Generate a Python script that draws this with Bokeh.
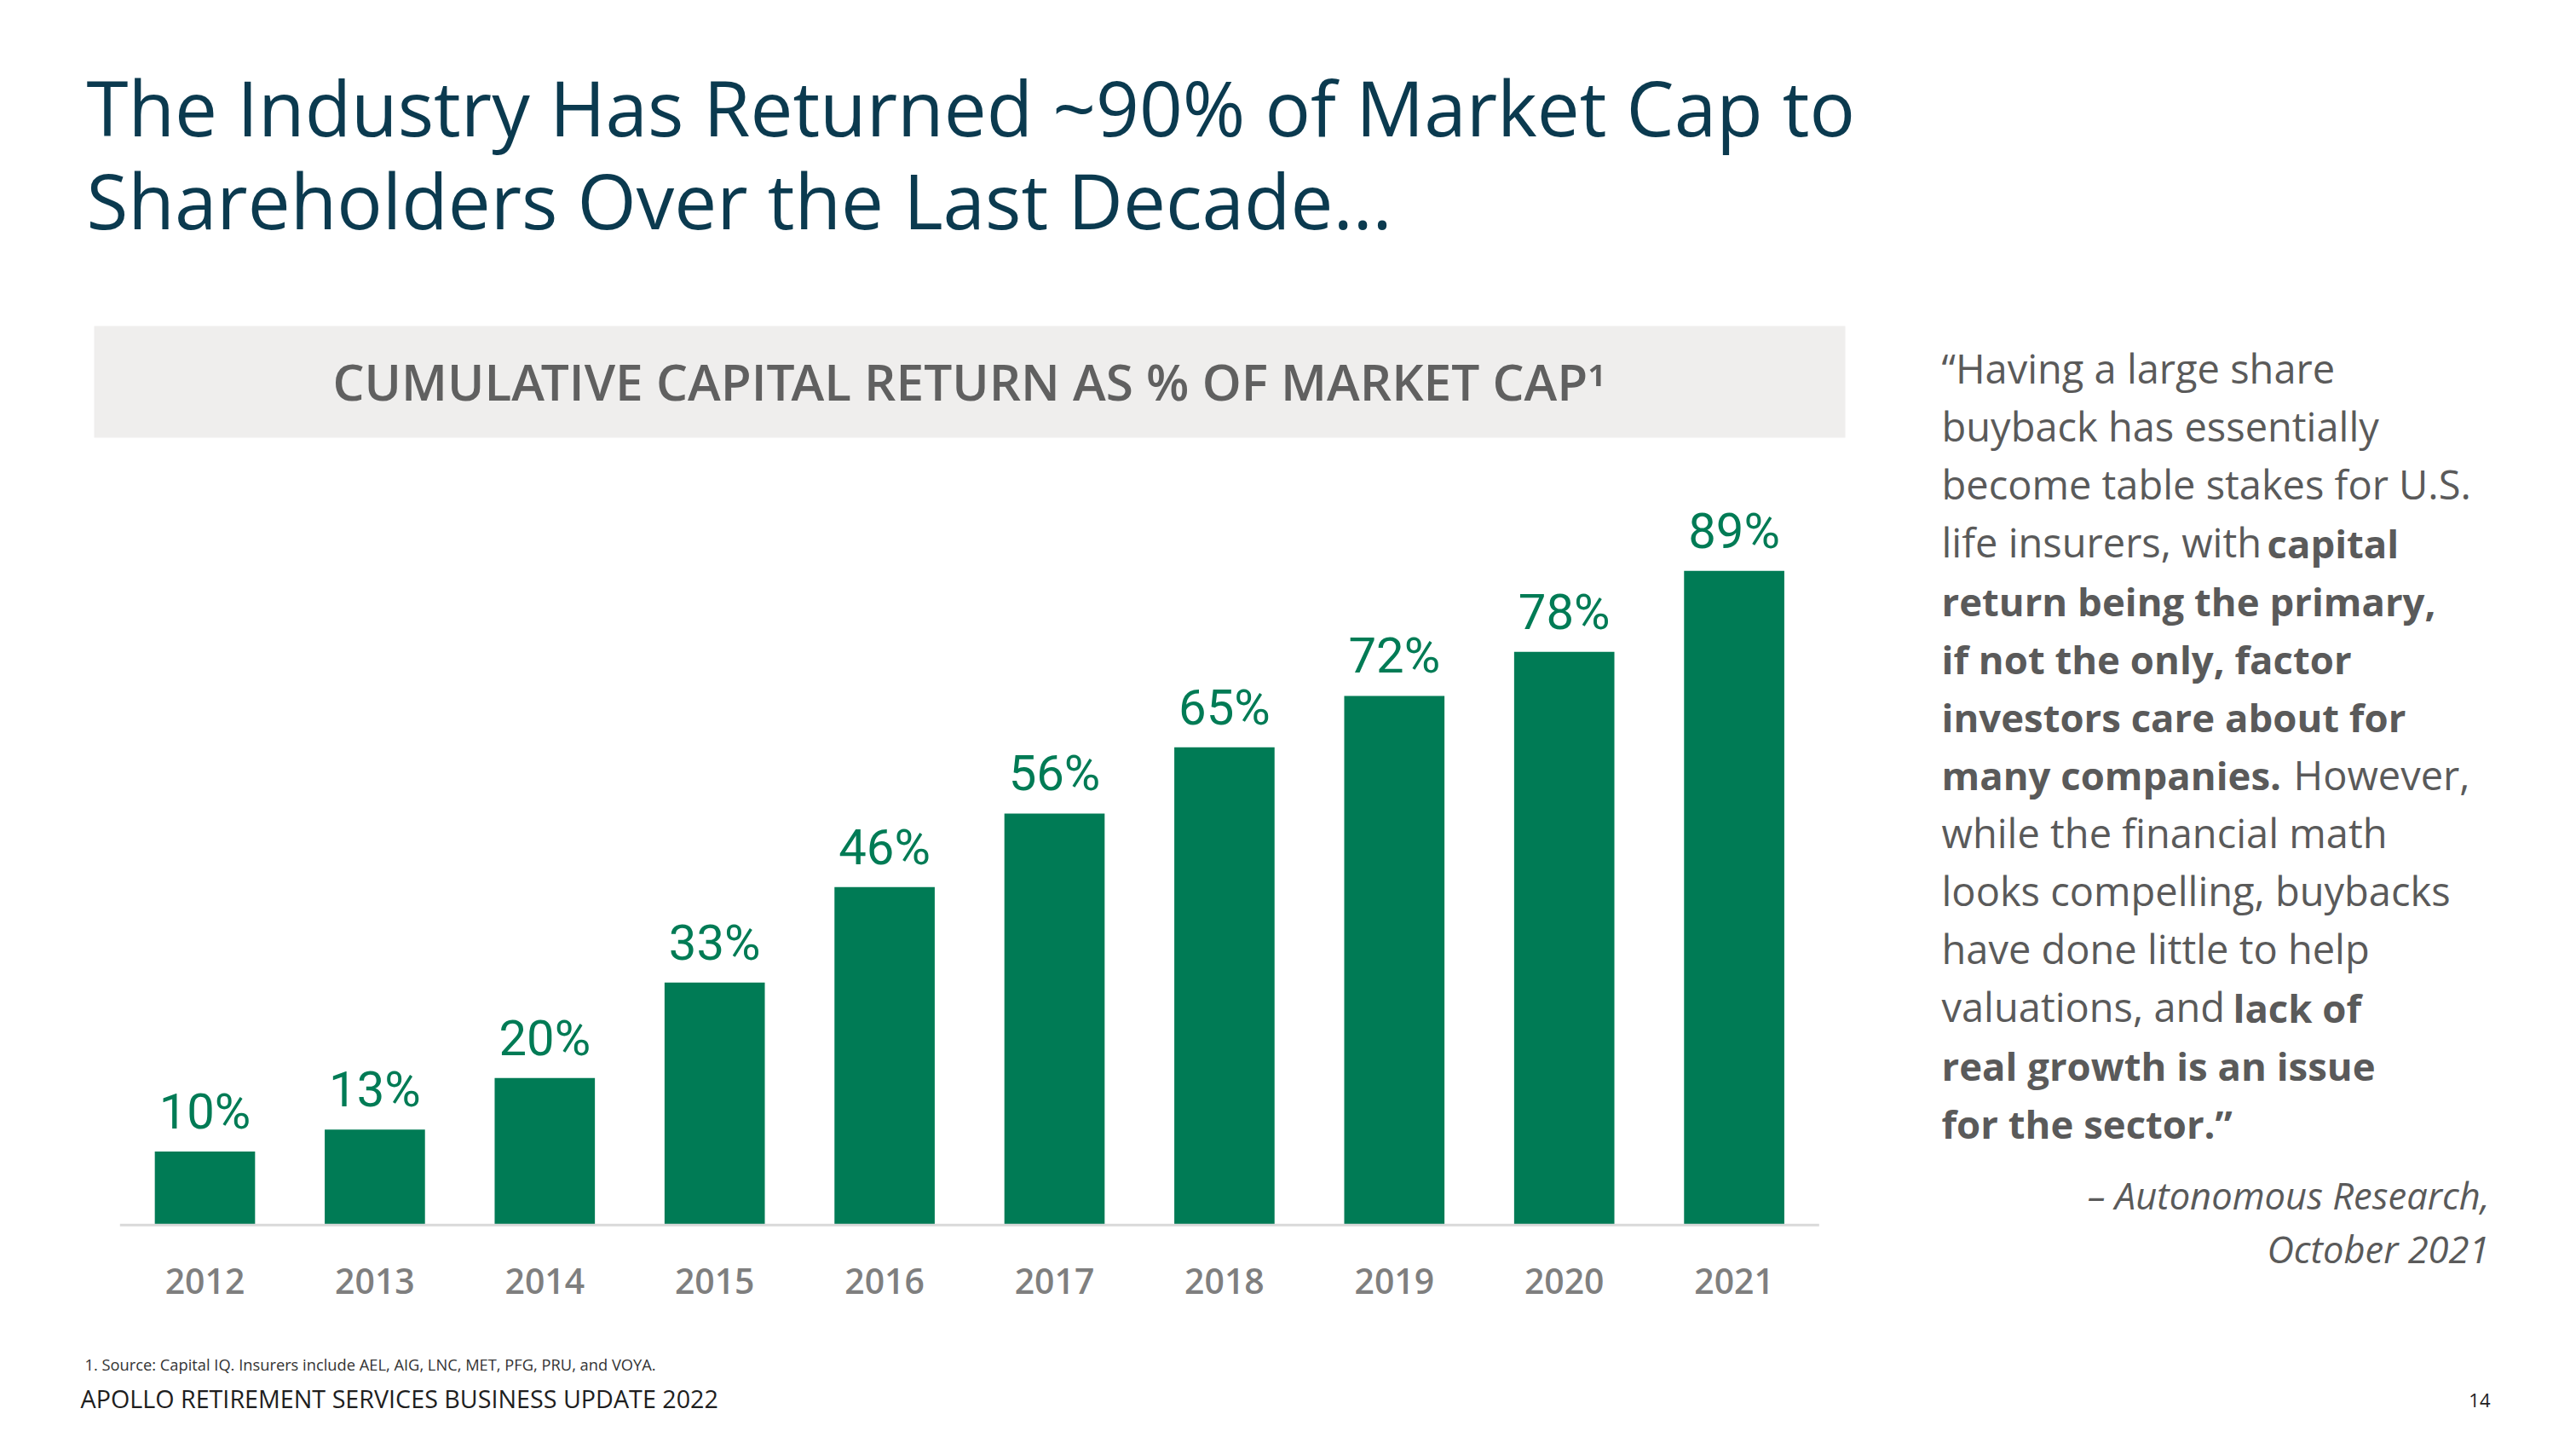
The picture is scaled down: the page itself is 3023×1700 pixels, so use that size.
from bokeh.plotting import figure
from bokeh.layouts import column, row
from bokeh.models import (Range1d, ColumnDataSource, LabelSet, Label, BoxAnnotation, FixedTicker)
from bokeh.embed import file_html
from bokeh.resources import INLINE
from bokeh.core.properties import value

# ---------------- data ----------------
years = [2012, 2013, 2014, 2015, 2016, 2017, 2018, 2019, 2020, 2021]
returns = [10, 13, 20, 33, 46, 56, 65, 72, 78, 89]
bar_labels = [f"{v}%" for v in returns]

title_lines = ["The Industry Has Returned ~90% of Market Cap to",
               "Shareholders Over the Last Decade…"]
chart_header = "CUMULATIVE CAPITAL RETURN AS % OF MARKET CAP¹"
# each quote line: list of (text, bold)
quote_lines = [
    [("“Having a large share", False)],
    [("buyback has essentially", False)],
    [("become table stakes for U.S.", False)],
    [("life insurers, with ", False), ("capital", True)],
    [("return being the primary,", True)],
    [("if not the only, factor", True)],
    [("investors care about for", True)],
    [("many companies.", True), ("However,", False)],
    [("while the financial math", False)],
    [("looks compelling, buybacks", False)],
    [("have done little to help", False)],
    [("valuations, and ", False), ("lack of", True)],
    [("real growth is an issue", True)],
    [("for the sector.”", True)],
]
attribution = ["– Autonomous Research,", "October 2021"]
footnote = "1. Source: Capital IQ. Insurers include AEL, AIG, LNC, MET, PFG, PRU, and VOYA."
footer = "APOLLO RETIREMENT SERVICES BUSINESS UPDATE 2022"
page_no = "14"

# ---------------- layout / styles ----------------
GREEN = "#007b55"
TITLE_C = "#0b3a4f"
GREY_TXT = "#5a5a5a"
PAGE_W = 3015
LEFT_W = 2200
TOP_H = 540
MID_H = 1020
FOOT_H = 132
BASE_Y = 1439          # page y of the frame bottom of the chart
BAR_PITCH = 199.4      # px between bar centres
FIRST_BAR = 240        # page x of first bar centre
BASELINE_SHIFT = 0.37  # Label alphabetic-baseline correction (in em)


def blank(w, h, x0, y0):
    """A figure whose frame fills it, with data coordinates = page pixels (y down)."""
    f = figure(width=w, height=h, x_range=Range1d(x0, x0 + w), y_range=Range1d(y0 + h, y0),
               output_backend="svg", toolbar_location=None,
               x_axis_location=None, y_axis_location=None, min_border=0)
    f.outline_line_color = None
    f.xgrid.grid_line_color = None
    f.ygrid.grid_line_color = None
    f.background_fill_color = "white"
    f.border_fill_color = "white"
    return f


def put(f, x, y, text, size, color, font="Open Sans", style="normal", align="left"):
    f.add_layout(Label(x=x, y=y - BASELINE_SHIFT * size, text=text, text_font=font,
                       text_font_size=f"{size}px", text_color=color, text_font_style=style,
                       text_align=align, text_baseline="alphabetic"))


# ---------------- top: title + chart header ----------------
top = blank(LEFT_W, TOP_H, 0, 0)
for i, t in enumerate(title_lines):
    put(top, 101, 158 + i * 109, t, 89, TITLE_C)
top.add_layout(BoxAnnotation(left=110, right=2165, top=382, bottom=513,
                             fill_color="#efeeed", fill_alpha=1, line_color=None,
                             level="underlay"))
put(top, 1137, 468, chart_header, 58.5, "#606060", font="Open Sans SemiBold", align="center")

# ---------------- chart ----------------
x_start = years[0] - FIRST_BAR / BAR_PITCH
p = figure(width=LEFT_W, height=MID_H,
           x_range=Range1d(x_start, x_start + LEFT_W / BAR_PITCH),
           y_range=Range1d(-0.25, 104),
           output_backend="svg", toolbar_location=None,
           y_axis_location=None,
           min_border_left=0, min_border_right=0,
           min_border_top=0, min_border_bottom=TOP_H + MID_H - BASE_Y)
p.outline_line_color = None
p.xgrid.grid_line_color = None
p.ygrid.grid_line_color = None
p.background_fill_color = "white"
p.border_fill_color = "white"

src = ColumnDataSource(dict(year=years, ret=returns, lab=bar_labels))
p.vbar(x="year", top="ret", width=0.59, bottom=0, source=src,
       fill_color=GREEN, line_color=None)
# category baseline spanning the bar slots
p.segment(x0=[years[0] - 0.5], x1=[years[-1] + 0.5], y0=[0], y1=[0],
          line_color="#d9d9d9", line_width=3)
p.add_layout(LabelSet(x="year", y="ret", text="lab", source=src, y_offset=27,
                      text_align="center", text_baseline="alphabetic",
                      text_font=value("Roboto"), text_font_size="58px",
                      text_color=GREEN))

ax = p.xaxis[0]
ax.ticker = FixedTicker(ticks=years)
ax.axis_line_color = None
ax.major_tick_line_color = None
ax.minor_tick_line_color = None
ax.major_label_standoff = 42
ax.major_label_text_font = "Open Sans SemiBold"
ax.major_label_text_font_size = "41px"
ax.major_label_text_color = "#7f7f7f"

# ---------------- quote ----------------
q = blank(PAGE_W - LEFT_W, TOP_H + MID_H, LEFT_W, 0)
seg_x = {("capital", 3): 2660, ("However,", 7): 2691, ("lack of", 11): 2620}
for i, segs in enumerate(quote_lines):
    y = 449 + i * 68.1
    for j, (t, b) in enumerate(segs):
        x = 2278 if j == 0 else seg_x[(t, i)]
        put(q, x, y, t, 45.5 if b else 47, GREY_TXT, style="bold" if b else "normal")
for i, t in enumerate(attribution):
    put(q, 2921, 1418 + i * 63, t, 43.5, GREY_TXT, style="italic", align="right")

# ---------------- footer ----------------
foot = blank(PAGE_W, FOOT_H, 0, TOP_H + MID_H)
put(foot, 99, 1607, footnote, 18.3, "#333333")
put(foot, 94, 1651, footer, 28.7, "#1e1e1e")
put(foot, 2922, 1651, page_no, 22, "#1e1e1e", align="right")

layout = column(row(column(top, p, spacing=0), q, spacing=0), foot, spacing=0)
open("out.html", "w").write(file_html(layout, INLINE))
